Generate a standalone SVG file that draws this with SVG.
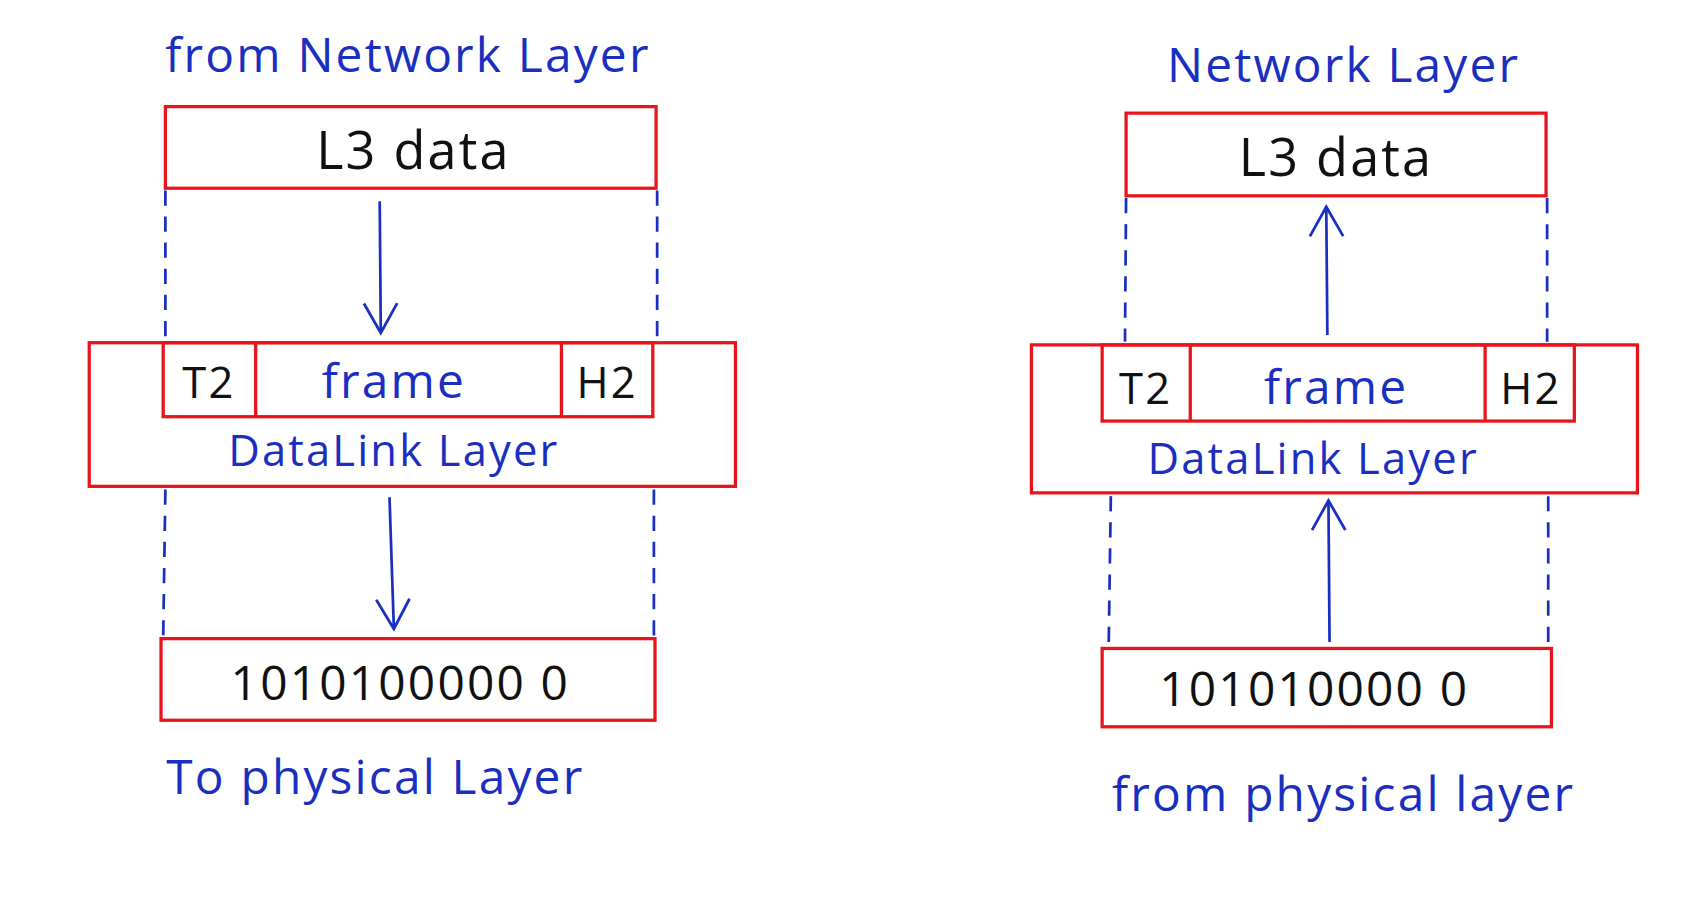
<svg xmlns="http://www.w3.org/2000/svg" width="1706" height="922" viewBox="0 0 1706 922">
<style>
.box{fill:none;stroke:#e8141c;stroke-width:3}
.dash{stroke:#1a2fc0;stroke-width:2.5;stroke-dasharray:14 10;fill:none}
.arr{stroke:#1a2fc0;stroke-width:2.5;fill:none}
.b{font-family:"Open Sans","Liberation Sans",sans-serif;fill:#1a2fc0;text-anchor:middle;letter-spacing:2px}
.k{font-family:"Open Sans","Liberation Sans",sans-serif;fill:#111;text-anchor:middle;letter-spacing:2px}
</style>
<defs><marker id="ah" viewBox="0 0 20 20" refX="18" refY="10" markerWidth="34" markerHeight="34" markerUnits="userSpaceOnUse" orient="auto-start-reverse"><path d="M2 1 L18 10 L2 19" fill="none" stroke="#1a2fc0" stroke-width="1.5"/></marker></defs>
<rect width="1706" height="922" fill="#fff"/>
<g transform="scale(1.088)">
<g id="connectors">
<line class="dash" x1="152" y1="175" x2="152" y2="312"/>
<line class="dash" x1="604" y1="175" x2="604" y2="312"/>
<line class="dash" x1="152" y1="450" x2="150" y2="585"/>
<line class="dash" x1="601" y1="450" x2="601" y2="585"/>
<line class="dash" x1="1035" y1="182" x2="1034" y2="314"/>
<line class="dash" x1="1422" y1="182" x2="1422" y2="314"/>
<line class="dash" x1="1021" y1="456" x2="1019" y2="594"/>
<line class="dash" x1="1423" y1="456" x2="1423" y2="594"/>
<line class="arr" x1="349" y1="185" x2="350" y2="306" marker-end="url(#ah)"/>
<line class="arr" x1="358" y1="457" x2="362" y2="578" marker-end="url(#ah)"/>
<line class="arr" x1="1220" y1="308" x2="1219" y2="190" marker-end="url(#ah)"/>
<line class="arr" x1="1222" y1="590" x2="1221" y2="460" marker-end="url(#ah)"/>
</g>
<text class="b" x="375" y="66" font-size="44">from Network Layer</text>
<text class="b" x="345" y="730" font-size="44">To physical Layer</text>
<text class="b" x="1235" y="75" font-size="44">Network Layer</text>
<text class="b" x="1235" y="745" font-size="44">from physical layer</text>
<g id="l3-left"><rect class="box" x="152" y="98" width="451" height="75"/><text class="k" x="380" y="155" font-size="48">L3 data</text></g>
<g id="dl-left"><rect class="box" x="82" y="315" width="594" height="132"/><rect class="box" x="150" y="315" width="450" height="68"/><line class="box" x1="235" y1="315" x2="235" y2="383"/><line class="box" x1="516" y1="315" x2="516" y2="383"/>
<text class="k" x="192" y="366" font-size="40">T2</text><text class="b" x="362" y="366" font-size="44">frame</text><text class="k" x="558" y="366" font-size="40">H2</text><text class="b" x="362" y="428" font-size="40">DataLink Layer</text></g>
<g id="bits-left"><rect class="box" x="148" y="587" width="454" height="75"/><text class="k" x="368" y="643" font-size="44" letter-spacing="6">1010100000 0</text></g>
<g id="l3-right"><rect class="box" x="1035" y="104" width="386" height="76"/><text class="k" x="1228" y="162" font-size="48">L3 data</text></g>
<g id="dl-right"><rect class="box" x="948" y="317" width="557" height="136"/><rect class="box" x="1013" y="317" width="434" height="70"/><line class="box" x1="1094" y1="317" x2="1094" y2="387"/><line class="box" x1="1365" y1="317" x2="1365" y2="387"/>
<text class="k" x="1053" y="371" font-size="40">T2</text><text class="b" x="1228" y="371" font-size="44">frame</text><text class="k" x="1407" y="371" font-size="40">H2</text><text class="b" x="1207" y="436" font-size="40">DataLink Layer</text></g>
<g id="bits-right"><rect class="box" x="1013" y="596" width="413" height="72"/><text class="k" x="1208" y="649" font-size="44" letter-spacing="6">101010000 0</text></g>
</g>
</svg>
